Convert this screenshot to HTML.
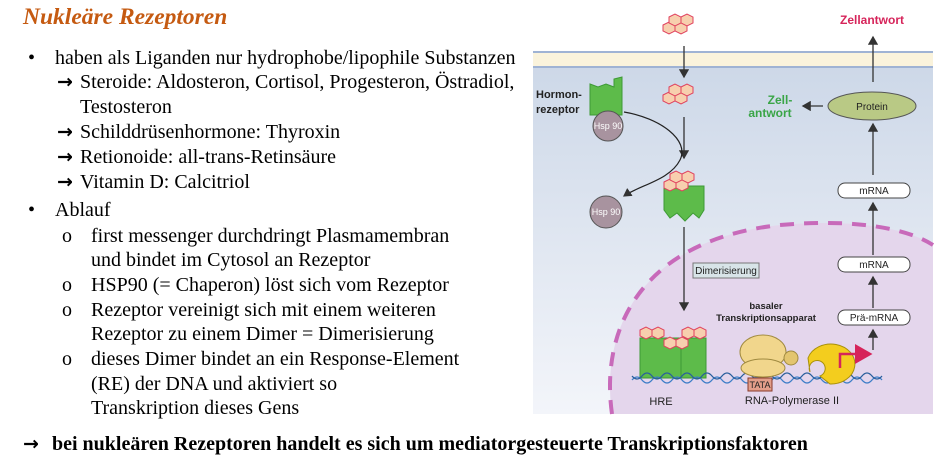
<!DOCTYPE html>
<html><head><meta charset="utf-8"><style>
body{margin:0;width:941px;height:470px;background:#fff;position:relative;overflow:hidden;font-family:"Liberation Serif",serif;color:#000}
.t{position:absolute;font-size:20px;white-space:nowrap;line-height:20px}
.a{font-weight:bold;font-family:"DejaVu Sans",sans-serif;font-size:19px;display:inline-block;width:23px}
#title{position:absolute;left:23px;top:4px;font-size:23.5px;font-weight:bold;font-style:italic;color:#c55a11}
svg{position:absolute;left:0;top:0}
svg text{font-family:"Liberation Sans",sans-serif}
</style></head><body>
<div id="title">Nukleäre Rezeptoren</div>
<div class="t" style="left:28px;top:48px">•</div>
<div class="t" style="left:55px;top:48px">haben als Liganden nur hydrophobe/lipophile Substanzen</div>
<div class="t" style="left:57px;top:72px"><span class="a">→</span>Steroide: Aldosteron, Cortisol, Progesteron, Östradiol,</div>
<div class="t" style="left:80px;top:97px">Testosteron</div>
<div class="t" style="left:57px;top:122px"><span class="a">→</span>Schilddrüsenhormone: Thyroxin</div>
<div class="t" style="left:57px;top:147px"><span class="a">→</span>Retionoide: all-trans-Retinsäure</div>
<div class="t" style="left:57px;top:172px"><span class="a">→</span>Vitamin D: Calcitriol</div>
<div class="t" style="left:28px;top:200px">•</div>
<div class="t" style="left:55px;top:200px">Ablauf</div>
<div class="t" style="left:62px;top:226px">o</div>
<div class="t" style="left:91px;top:226px">first messenger durchdringt Plasmamembran</div>
<div class="t" style="left:91px;top:250px">und bindet im Cytosol an Rezeptor</div>
<div class="t" style="left:62px;top:275px">o</div>
<div class="t" style="left:91px;top:275px">HSP90 (= Chaperon) löst sich vom Rezeptor</div>
<div class="t" style="left:62px;top:300px">o</div>
<div class="t" style="left:91px;top:300px">Rezeptor vereinigt sich mit einem weiteren</div>
<div class="t" style="left:91px;top:324px">Rezeptor zu einem Dimer = Dimerisierung</div>
<div class="t" style="left:62px;top:349px">o</div>
<div class="t" style="left:91px;top:349px">dieses Dimer bindet an ein Response-Element</div>
<div class="t" style="left:91px;top:374px">(RE) der DNA und aktiviert so</div>
<div class="t" style="left:91px;top:398px">Transkription dieses Gens</div>
<div class="t" style="left:23px;top:434px;font-weight:bold"><span class="a" style="width:29px">→</span>bei nukleären Rezeptoren handelt es sich um mediatorgesteuerte Transkriptionsfaktoren</div>

<svg width="941" height="470">
<defs>
<linearGradient id="bg" x1="0" y1="0" x2="0" y2="1"><stop offset="0" stop-color="#cdd8e8"/><stop offset="1" stop-color="#f3f5fa"/></linearGradient>
<marker id="ar" markerWidth="8" markerHeight="8" refX="6" refY="4" orient="auto"><path d="M0,0L7,4L0,8z" fill="#333"/></marker>
<marker id="arp" markerWidth="8" markerHeight="8" refX="6" refY="4" orient="auto"><path d="M0,0L7,4L0,8z" fill="#d6245a"/></marker>
<g id="hx"><polygon points="0,3 6,0 12,3 12,9 6,12 0,9"/></g>
<g id="mol"><use href="#hx" x="0" y="8"/><use href="#hx" x="12" y="8"/><use href="#hx" x="6" y="0"/><use href="#hx" x="18" y="0"/></g>
</defs>
<rect x="533" y="67" width="400" height="347" fill="url(#bg)"/>
<rect x="533" y="51" width="400" height="17" fill="#faf3dc"/>
<line x1="533" y1="52" x2="933" y2="52" stroke="#9fb3d4" stroke-width="2"/>
<line x1="533" y1="67" x2="933" y2="67" stroke="#9fb3d4" stroke-width="2"/>
<path d="M612,414 C600,330 640,240 780,225 C860,218 910,230 933,245 L933,414 Z" fill="#e4d6ec"/>
<path d="M612,414 C600,330 640,240 780,225 C860,218 910,230 933,245" fill="none" stroke="#c86aba" stroke-width="4" stroke-dasharray="14,10"/>
<g fill="#f7cfae" stroke="#e0405e" stroke-width="1">
<use href="#mol" x="663" y="14"/><use href="#mol" x="663" y="84"/>
</g>
<line x1="684" y1="46" x2="684" y2="77" stroke="#333" stroke-width="1.3" marker-end="url(#ar)"/>
<line x1="684" y1="117" x2="684" y2="158" stroke="#333" stroke-width="1.3" marker-end="url(#ar)"/>
<line x1="684" y1="227" x2="684" y2="310" stroke="#333" stroke-width="1.3" marker-end="url(#ar)"/>
<path d="M590,84 l8,3 l8,-3 l8,3 l0,-8 l8,-2 l0,38 l-32,0z" fill="#5dbb4a" stroke="#3d9a35"/>
<circle cx="608" cy="126" r="15" fill="#a8939f" stroke="#555"/>
<text x="608" y="129" font-size="9" fill="#fff" text-anchor="middle">Hsp 90</text>
<text x="536" y="98" font-size="11" font-weight="bold" fill="#222">Hormon-</text>
<text x="536" y="113" font-size="11" font-weight="bold" fill="#222">rezeptor</text>
<path d="M624,112 C660,118 690,140 680,160 C670,180 640,185 624,196" fill="none" stroke="#222" stroke-width="1.2" marker-end="url(#ar)"/>
<circle cx="606" cy="212" r="16" fill="#a8939f" stroke="#555"/>
<text x="606" y="215" font-size="9" fill="#fff" text-anchor="middle">Hsp 90</text>
<path d="M664,186 l40,0 l0,24 l-5,8 l-6,-5 l-8,8 l-8,-8 l-7,5 l-6,-8z" fill="#5dbb4a" stroke="#3d9a35"/>
<g fill="#f7cfae" stroke="#e0405e"><use href="#mol" x="664" y="171"/></g>
<rect x="693" y="263" width="66" height="15" fill="#d8e4e8" stroke="#777"/>
<text x="726" y="274" font-size="10" fill="#222" text-anchor="middle">Dimerisierung</text>
<path d="M640,338 l66,0 l0,40 l-66,0z" fill="#5dbb4a" stroke="#3d9a35"/>
<line x1="681" y1="338" x2="681" y2="378" stroke="#3d9a35"/>
<g fill="#f7cfae" stroke="#e0405e"><use href="#hx" x="640" y="327"/><use href="#hx" x="652" y="327"/><use href="#hx" x="664" y="337"/><use href="#hx" x="676" y="337"/><use href="#hx" x="682" y="327"/><use href="#hx" x="694" y="327"/></g>
<path d="M632,380 q5,-6 10,0 t10,0 t10,0 t10,0 t10,0 t10,0 t10,0 t10,0 t10,0 t10,0 t10,0 t10,0 t10,0 t10,0 t10,0 t10,0 t10,0 t10,0 t10,0 t10,0 t10,0 t10,0 t10,0 t10,0 t10,0" fill="none" stroke="#3f7fc8" stroke-width="1.3"/>
<path d="M632,376 q5,6 10,0 t10,0 t10,0 t10,0 t10,0 t10,0 t10,0 t10,0 t10,0 t10,0 t10,0 t10,0 t10,0 t10,0 t10,0 t10,0 t10,0 t10,0 t10,0 t10,0 t10,0 t10,0 t10,0 t10,0 t10,0" fill="none" stroke="#2a5f9c" stroke-width="1.3"/>
<text x="661" y="405" font-size="11" fill="#222" text-anchor="middle">HRE</text>
<ellipse cx="763" cy="352" rx="23" ry="17" fill="#f1d68c" stroke="#a08a40"/>
<ellipse cx="763" cy="368" rx="22" ry="9" fill="#f1d68c" stroke="#a08a40"/>
<circle cx="791" cy="358" r="7" fill="#e3c56f" stroke="#a08a40"/>
<path d="M808,358 a24,20 0 1,1 22,26 l-10,-8 a8,8 0 1,0 -10,-4z" fill="#f3cd1e" stroke="#a8900a"/>
<rect x="748" y="378" width="24" height="13" fill="#e39e8a" stroke="#8a3b2a"/>
<text x="760" y="388" font-size="9" fill="#222" text-anchor="middle">TATA</text>
<text x="792" y="404" font-size="11" fill="#222" text-anchor="middle">RNA-Polymerase II</text>
<text x="766" y="309" font-size="9.5" font-weight="bold" fill="#222" text-anchor="middle">basaler</text>
<text x="766" y="321" font-size="9.5" font-weight="bold" fill="#222" text-anchor="middle">Transkriptionsapparat</text>
<path d="M840,368 l0,-14 l30,0" fill="none" stroke="#d6245a" stroke-width="2.5" marker-end="url(#arp)"/>
<rect x="838" y="310" width="72" height="15" rx="7" fill="#fff" stroke="#444"/>
<text x="874" y="321" font-size="10" fill="#222" text-anchor="middle">Prä-mRNA</text>
<rect x="838" y="257" width="72" height="15" rx="7" fill="#fff" stroke="#444"/>
<text x="874" y="268" font-size="10" fill="#222" text-anchor="middle">mRNA</text>
<rect x="838" y="183" width="72" height="15" rx="7" fill="#fff" stroke="#444"/>
<text x="874" y="194" font-size="10" fill="#222" text-anchor="middle">mRNA</text>
<ellipse cx="872" cy="106" rx="44" ry="14" fill="#b9c985" stroke="#555"/>
<text x="872" y="110" font-size="10" fill="#222" text-anchor="middle">Protein</text>
<line x1="873" y1="350" x2="873" y2="330" stroke="#333" stroke-width="1.3" marker-end="url(#ar)"/>
<line x1="873" y1="308" x2="873" y2="277" stroke="#333" stroke-width="1.3" marker-end="url(#ar)"/>
<line x1="873" y1="255" x2="873" y2="203" stroke="#333" stroke-width="1.3" marker-end="url(#ar)"/>
<line x1="873" y1="175" x2="873" y2="124" stroke="#333" stroke-width="1.3" marker-end="url(#ar)"/>
<line x1="873" y1="82" x2="873" y2="37" stroke="#333" stroke-width="1.3" marker-end="url(#ar)"/>
<line x1="823" y1="106" x2="803" y2="106" stroke="#333" stroke-width="1.3" marker-end="url(#ar)"/>
<text x="872" y="24" font-size="12" font-weight="bold" fill="#d6245a" text-anchor="middle">Zellantwort</text>
<text x="780" y="104" font-size="12" font-weight="bold" fill="#3aa547" text-anchor="middle">Zell-</text>
<text x="770" y="117" font-size="12" font-weight="bold" fill="#3aa547" text-anchor="middle">antwort</text>
</svg>
</body></html>
